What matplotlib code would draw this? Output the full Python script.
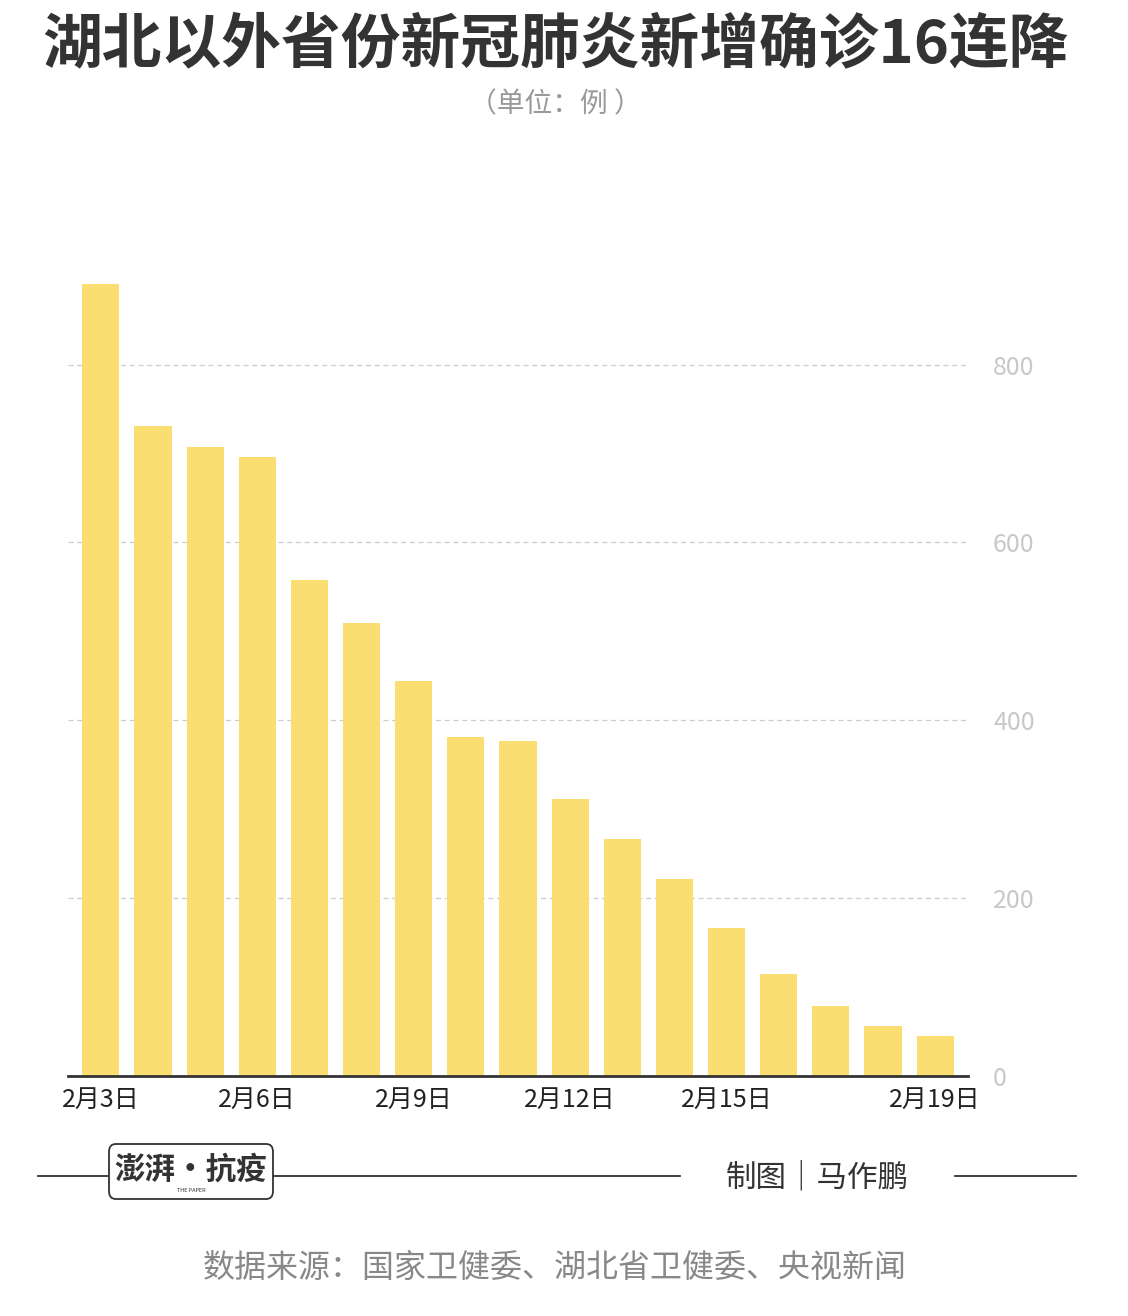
import matplotlib.pyplot as plt
from matplotlib.patches import FancyBboxPatch

plt.rcParams['font.family'] = ['Noto Sans CJK SC', 'DejaVu Sans']

dates = ['2月3日', '2月4日', '2月5日', '2月6日', '2月7日', '2月8日', '2月9日', '2月10日', '2月11日',
         '2月12日', '2月13日', '2月14日', '2月15日', '2月16日', '2月17日', '2月18日', '2月19日']
cases = [890, 731, 707, 696, 558, 509, 444, 381, 377, 312, 267, 221, 166, 115, 79, 56, 45]
shown_ticks = [0, 3, 6, 9, 12, 16]
y_ticks = [0, 200, 400, 600, 800]

W, H = 1128, 1316
fig = plt.figure(figsize=(W / 100, H / 100), dpi=100)
ax = fig.add_axes([68 / W, 1 - 1076 / H, 900 / W, 876 / H])

x = list(range(len(cases)))
ax.bar(x, cases, width=0.71, color='#fbde72', zorder=2)
ax.set_xlim(-0.63, 16.63)
ax.set_ylim(0, 985)
ax.yaxis.tick_right()
ax.set_yticks(y_ticks)
ax.set_yticklabels([str(v) for v in y_ticks], color='#c8c8c8', fontsize=18)
ax.tick_params(axis='y', length=0, pad=18)
ax.grid(axis='y', linestyle=(0, (4, 3)), color='#cccccc', linewidth=0.9, zorder=0)
ax.set_xticks(shown_ticks)
ax.set_xticklabels([dates[i] for i in shown_ticks], fontsize=18, color='#222222')
ax.tick_params(axis='x', length=0, pad=8)
for s in ['top', 'right', 'left']:
    ax.spines[s].set_visible(False)
ax.spines['bottom'].set_linewidth(2)
ax.spines['bottom'].set_color('#333333')

fig.text(555 / W, 1 - 45 / H, '湖北以外省份新冠肺炎新增确诊16连降', ha='center', va='center',
         fontsize=43, fontweight='bold', color='#333333')
fig.text(555 / W, 1 - 104 / H, '（单位：例 ）', ha='center', va='center', fontsize=20, color='#999999')

# footer
for x0, x1 in [(38, 108), (274, 680), (955, 1076)]:
    fig.add_artist(plt.Line2D([x0 / W, x1 / W], [1 - 1176 / H] * 2, color='#333333', lw=1.3))
fig.add_artist(FancyBboxPatch((109 / W, 1 - 1199 / H), 164 / W, 55 / H,
                              boxstyle='round,pad=0,rounding_size=0.006',
                              fc='white', ec='#333333', lw=1.3, transform=fig.transFigure))
fig.text(191 / W, 1 - 1170 / H, '澎湃·抗疫', ha='center', va='center', fontsize=22,
         fontweight='bold', color='#333333')
fig.text(191 / W, 1 - 1190 / H, 'THE PAPER', ha='center', va='center', fontsize=4, color='#333333')
fig.text(817 / W, 1 - 1178 / H, '制图｜马作鹏', ha='center', va='center', fontsize=22, color='#333333')
fig.text(555 / W, 1 - 1268 / H, '数据来源：国家卫健委、湖北省卫健委、央视新闻', ha='center', va='center',
         fontsize=23, color='#888888')

fig.savefig('out.png', dpi=100, facecolor='white')
